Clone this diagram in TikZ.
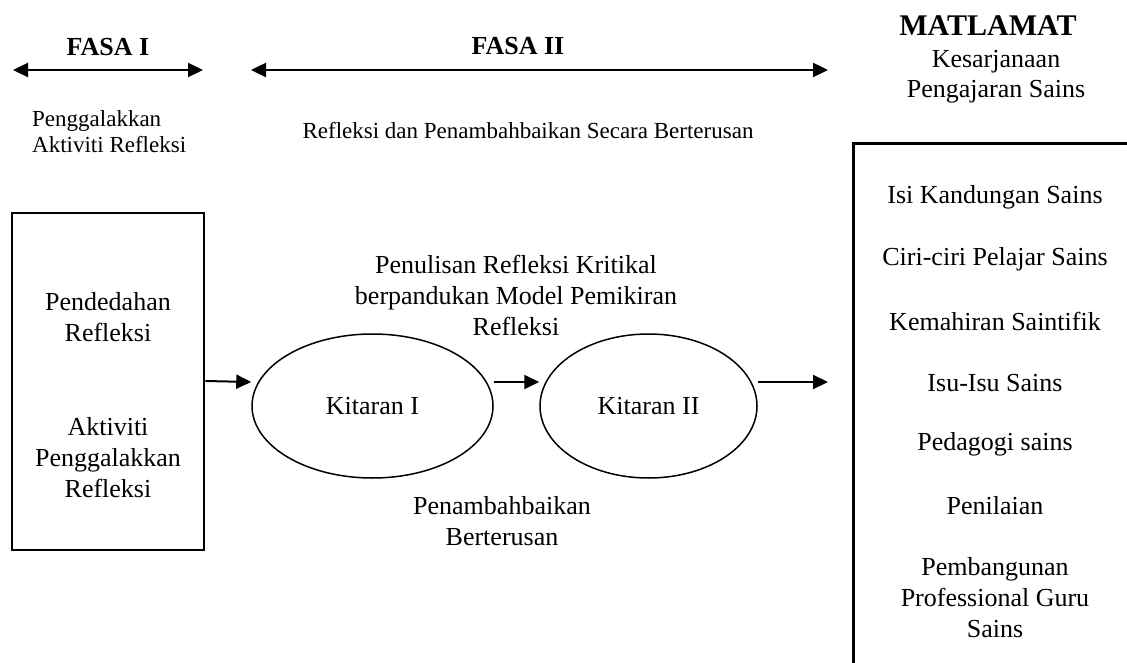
\documentclass[tikz,border=0pt]{standalone}
\usepackage{fontspec}
\setmainfont{Liberation Serif}
\usetikzlibrary{arrows.meta,shapes.geometric,positioning}
\tikzset{box/.style={draw=black,line width=2.6pt,rectangle,inner sep=0pt}}
\tikzset{cyc/.style={draw=black,line width=1.5pt,ellipse,inner sep=0pt,minimum height=144pt,font=\fontsize{26}{31}\selectfont}}
\tikzset{txt/.style={align=center,inner sep=0pt,font=\fontsize{26}{31}\selectfont}}
\tikzset{small/.style={align=left,inner sep=0pt,font=\fontsize{23}{26}\selectfont}}
\tikzset{head/.style={inner sep=0pt,font=\fontsize{26}{31}\selectfont\bfseries}}
\tikzset{link/.style={line width=2pt,-{Triangle[length=15pt,width=14pt]}}}
\tikzset{span/.style={line width=2.4pt,{Triangle[length=15pt,width=14pt]}-{Triangle[length=15pt,width=14pt]}}}

\begin{document}
\begin{tikzpicture}[x=1pt,y=-1pt]
        \useasboundingbox (0,0) rectangle (1127,663);
        \clip (0,0) rectangle (1127,663);
        % phases
        \node[head] (fasaI) at (108,47) {FASA I};
        \node[head] (fasaII) at (518,46) {FASA II};
        \node[head,font=\fontsize{30}{36}\selectfont\bfseries] (matlamat) at (988,26) {MATLAMAT};
        \node[txt,font=\fontsize{26}{30}\selectfont] (goal) at (996,77) {Kesarjanaan\\Pengajaran Sains};
        \coordinate (p1a) at (13,70); \coordinate (p1b) at (203,70);
        \coordinate (p2a) at (251,70); \coordinate (p2b) at (828,70);
        \draw[span] (p1a) -- (p1b);
        \draw[span] (p2a) -- (p2b);
        \node[small,anchor=west] (gal) at (32,132) {Penggalakkan\\Aktiviti Refleksi};
        \node[small] (refl) at (528,131) {Refleksi dan Penambahbaikan Secara Berterusan};

        % left box
        \node[box,minimum width=192pt,minimum height=337pt] (start) at (108,381.5) {};
        \node[txt] (pend) at (108,317.5) {Pendedahan\\Refleksi};
        \node[txt] (akt) at (108,457.5) {Aktiviti\\Penggalakkan\\Refleksi};

        % cycles
        \node[cyc,minimum width=241pt] (k1) at (372.5,406) {Kitaran I};
        \node[cyc,minimum width=217pt] (k2) at (648.5,406) {Kitaran II};
        \node[txt] (tulis) at (516,295) {Penulisan Refleksi Kritikal\\berpandukan Model Pemikiran\\Refleksi};
        \node[txt] (tambah) at (502,521) {Penambahbaikan\\Berterusan};
        \coordinate (out) at (828,382);
        \draw[link] ([yshift=0.5pt]start.east) -- ([yshift=24pt]k1.west);
        \draw[link] ([yshift=24pt]k1.east) -- ([yshift=24pt]k2.west);
        \draw[link] ([yshift=24pt]k2.east) -- (out);

        % goal box
        \node[box,minimum width=286pt,minimum height=560pt,anchor=north west] (aims) at (852,142) {};
        \node[txt] (a1) at (995,197) {Isi Kandungan Sains};
        \node[txt] (a2) at (995,259) {Ciri-ciri Pelajar Sains};
        \node[txt] (a3) at (995,321) {Kemahiran Saintifik};
        \node[txt] (a4) at (995,383) {Isu-Isu Sains};
        \node[txt] (a5) at (995,444) {Pedagogi sains};
        \node[txt] (a6) at (995,506) {Penilaian};
        \node[txt] (a7) at (995,598) {Pembangunan\\Professional Guru\\Sains};
\end{tikzpicture}
\end{document}
